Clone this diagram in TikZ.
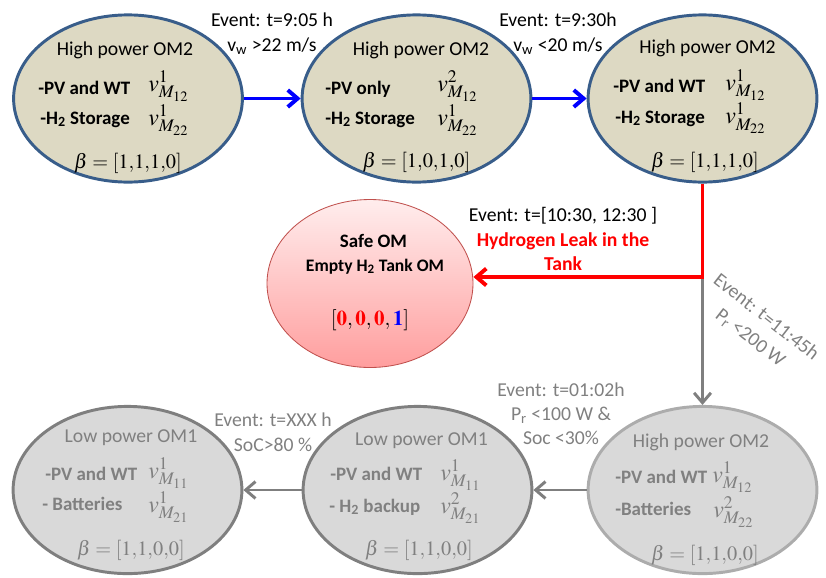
\documentclass[tikz,border=0pt]{standalone}
\usepackage{amsmath}
\usepackage{mathptmx}
\usepackage[no-math]{fontspec}
\setmainfont{Carlito}
\usetikzlibrary{shapes.geometric, arrows.meta}

\definecolor{omfill}{HTML}{DDD9C3}
\definecolor{omline}{HTML}{385D8A}
\definecolor{lowfill}{HTML}{D9D9D9}
\definecolor{lowline}{HTML}{7F7F7F}
\definecolor{lowtext}{HTML}{808080}
\definecolor{safeline}{HTML}{C0504D}
\newcommand{\Hii}{H\textsubscript{2}}

\begin{document}
\begin{tikzpicture}[scale=1,
  om/.style={ellipse,draw=omline,line width=2.1pt,fill=omfill,
    minimum width=5.72cm,minimum height=4.18cm,inner sep=0pt},
  lowom/.style={om,draw=lowline,fill=lowfill},
  omtitle/.style={anchor=base,inner sep=0pt,font=\fontsize{14}{17}\selectfont},
  omitem/.style={anchor=base west,inner sep=0pt,font=\bfseries\fontsize{13.5}{16}\selectfont},
  omvec/.style={anchor=base west,inner sep=0pt,font=\fontsize{17}{20}\selectfont},
  ombeta/.style={anchor=base,inner sep=0pt,font=\fontsize{14.5}{18}\selectfont},
  event/.style={align=center,inner sep=0pt,font=\fontsize{14}{17.6}\selectfont},
  blueflow/.style={draw=blue,line width=2.8pt,-{Straight Barb[length=7pt,width=12pt]}},
  redflow/.style={draw=red,line width=2.8pt,-{Straight Barb[length=7pt,width=12pt]}},
  grayflow/.style={draw=lowline,line width=2.1pt,-{Straight Barb[length=7pt,width=12pt]}}]

\useasboundingbox (0,0) rectangle (20.65,-14.425);

% top row
\begin{scope}[shift={(3.2,-2.4625)}]
\node[om] (om1) at (0,0) {};
\node[omtitle] (t1) at (-0.075,1.0875) {High power OM2};
\node[omitem] (a1) at (-2.25,0.1125) {-PV and WT};
\node[omvec] (va1) at (0.5,0.1875) {$v^{1}_{M_{12}}$};
\node[omitem] (b1) at (-2.2,-0.6375) {-\Hii{} Storage};
\node[omvec] (vb1) at (0.5,-0.6625) {$v^{1}_{M_{22}}$};
\node[ombeta] (beta1) at (0,-1.7375) {$\beta=[1{,}1{,}1{,}0]$};
\end{scope}

\begin{scope}[shift={(10.4125,-2.4625)}]
\node[om] (om2) at (0,0) {};
\node[omtitle] (t2) at (0.1125,1.0875) {High power OM2};
\node[omitem] (a2) at (-2.2875,0.1125) {-PV only};
\node[omvec] (va2) at (0.5125,0.1875) {$v^{2}_{M_{12}}$};
\node[omitem] (b2) at (-2.2875,-0.6375) {-\Hii{} Storage};
\node[omvec] (vb2) at (0.5125,-0.6625) {$v^{1}_{M_{22}}$};
\node[ombeta] (beta2) at (0,-1.7125) {$\beta=[1{,}0{,}1{,}0]$};
\end{scope}

\begin{scope}[shift={(17.5625,-2.4625)}]
\node[om] (om3) at (0,0) {};
\node[omtitle] (t3) at (0.125,1.125) {High power OM2};
\node[omitem] (a3) at (-2.2375,0.1625) {-PV and WT};
\node[omvec] (va3) at (0.5625,0.2125) {$v^{1}_{M_{12}}$};
\node[omitem] (b3) at (-2.1875,-0.6125) {-\Hii{} Storage};
\node[omvec] (vb3) at (0.5625,-0.625) {$v^{1}_{M_{22}}$};
\node[ombeta] (beta3) at (0.0625,-1.7125) {$\beta=[1{,}1{,}1{,}0]$};
\end{scope}

% safe mode
\begin{scope}[shift={(9.25,-7.0875)}]
\node[ellipse,draw=safeline,line width=0.6pt,top color=red!7,bottom color=red!38,
  minimum width=5.15cm,minimum height=4.2cm,inner sep=0pt] (safe) at (0,0) {};
\node[omtitle,font=\bfseries\fontsize{13.5}{16}\selectfont] (s1) at (0.0875,0.9125) {Safe OM};
\node[omtitle,font=\bfseries\fontsize{12.5}{15}\selectfont] (s2) at (0.125,0.3125) {Empty \Hii{} Tank OM};
\node[omtitle,font=\fontsize{15}{18}\selectfont] (s3) at (0,-1.0375)
  {$[\textcolor{red}{\mathbf{0}}, \textcolor{red}{\mathbf{0}}, \textcolor{red}{\mathbf{0}}, \textcolor{blue}{\mathbf{1}}]$};
\end{scope}

% bottom row
\begin{scope}[shift={(17.5625,-12.25)},text=lowtext]
\node[lowom,draw=lowline!65] (om6) at (0,0) {};
\node[omtitle] (t6) at (-0.0375,1.075) {High power OM2};
\node[omitem] (a6) at (-2.1875,0.175) {-PV and WT};
\node[omvec] (va6) at (0.2375,0.2) {$v^{1}_{M_{12}}$};
\node[omitem] (b6) at (-2.1875,-0.625) {-Batteries};
\node[omvec] (vb6) at (0.2625,-0.675) {$v^{2}_{M_{22}}$};
\node[ombeta] (beta6) at (0.0625,-1.75) {$\beta=[1{,}1{,}0{,}0]$};
\end{scope}

\begin{scope}[shift={(10.4375,-12.25)},text=lowtext]
\node[lowom] (om5) at (0,0) {};
\node[omtitle] (t5) at (0.1,1.125) {Low power OM1};
\node[omitem] (a5) at (-2.1875,0.25) {-PV and WT};
\node[omvec] (va5) at (0.5625,0.25) {$v^{1}_{M_{11}}$};
\node[omitem] (b5) at (-2.2125,-0.55) {- \Hii{} backup};
\node[omvec] (vb5) at (0.5625,-0.575) {$v^{2}_{M_{21}}$};
\node[ombeta] (beta5) at (0.0375,-1.625) {$\beta=[1{,}1{,}0{,}0]$};
\end{scope}

\begin{scope}[shift={(3.1875,-12.25)},text=lowtext]
\node[lowom] (om4) at (0,0) {};
\node[omtitle] (t4) at (0.0875,1.2) {Low power OM1};
\node[omitem] (a4) at (-2.0625,0.25) {-PV and WT};
\node[omvec] (va4) at (0.5125,0.3) {$v^{1}_{M_{11}}$};
\node[omitem] (b4) at (-2.1375,-0.5) {- Batteries};
\node[omvec] (vb4) at (0.5125,-0.55) {$v^{1}_{M_{21}}$};
\node[ombeta] (beta4) at (0.0875,-1.625) {$\beta=[1{,}1{,}0{,}0]$};
\end{scope}

% events
\node[event] (ev905) at (6.8,-0.8475) {Event: t=9:05 h\\ v\textsubscript{w} >22 m/s};
\node[event] (ev930) at (13.95,-0.85) {Event: t=9:30h\\ v\textsubscript{w} <20 m/s};
\node[event,font=\fontsize{14}{17.4}\selectfont] (evleak) at (14.075,-5.975)
  {Event: t=[10:30, 12:30 ]\\ \textcolor{red}{\bfseries Hydrogen Leak in the}\\ \textcolor{red}{\bfseries Tank}};
\node[event,text=lowtext,rotate=-38,font=\fontsize{14}{18.5}\selectfont] (ev1145) at (18.95,-8.2)
  {Event: t=11:45h\\ P\textsubscript{r} <200 W};
\node[event,text=lowtext,font=\fontsize{14}{17}\selectfont] (ev0102) at (14.025,-10.35)
  {Event: t=01:02h\\ P\textsubscript{r} <100 W \&\\ Soc <30\%};
\node[event,text=lowtext] (evxxx) at (6.825,-10.8125) {Event: t=XXX h\\ SoC>80 \%};

% transitions
\coordinate (redbend) at (17.5625,-6.925);
\draw[blueflow] (om1) -- (om2);
\draw[blueflow] (om2) -- (om3);
\draw[grayflow] (redbend) -- (om6);
\draw[grayflow] (om6) -- (om5);
\draw[grayflow] (om5) -- (om4);
\draw[redflow] (om3) -- (redbend) -- (redbend -| safe.east);

\end{tikzpicture}
\end{document}
